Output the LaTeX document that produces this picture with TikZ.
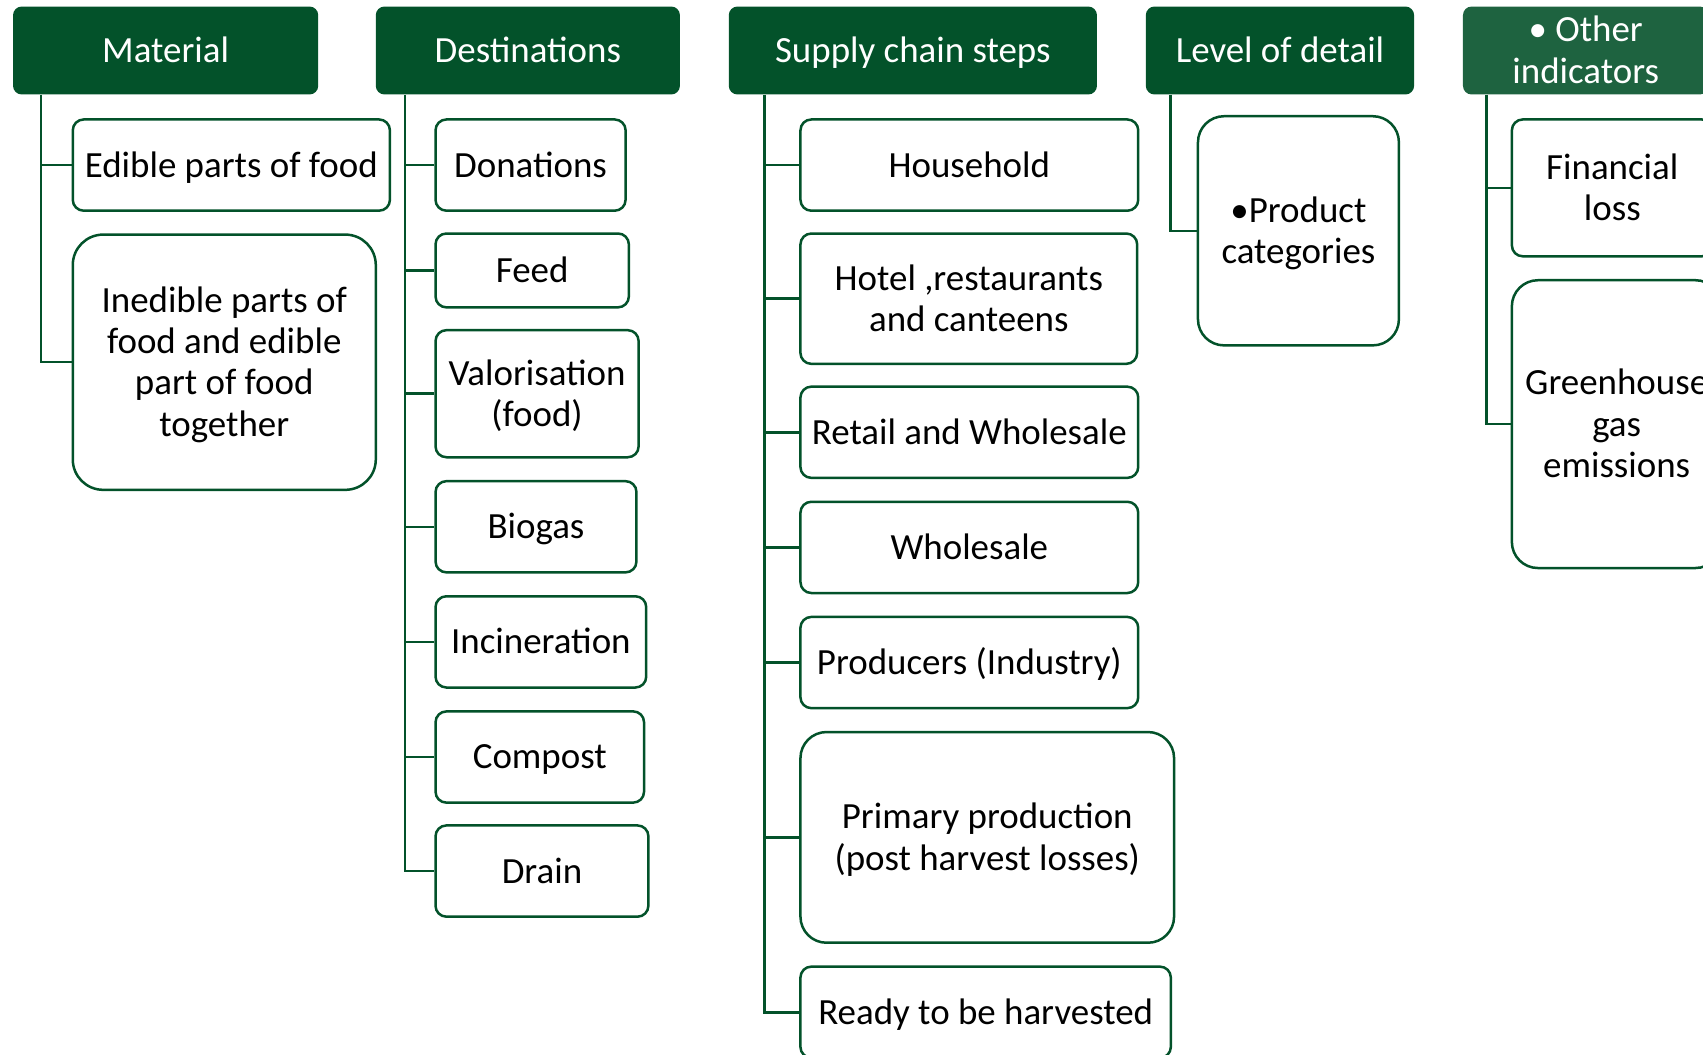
\documentclass[tikz,border=0pt]{standalone}
\usepackage{fontspec}
\setmainfont{Carlito}
\definecolor{dg}{HTML}{03522A}
\definecolor{lg}{HTML}{1E6340}
\newcommand\mystrutx{\rule[-8pt]{0pt}{38pt}}
\newcommand\mlines[1]{\raisebox{-3.5pt}[\height][\depth]{\begin{tabular}{@{}c@{}}#1\end{tabular}}}
\begin{document}
\begin{tikzpicture}[x=1pt,y=-1pt,
  txt/.style={font=\fontsize{34}{38}\selectfont, align=center, inner sep=0pt,
    execute at begin node=\mystrutx},
  hdr/.style={txt, fill=dg, text=white, rounded corners=8pt, minimum height=81pt},
  box/.style={txt, draw=dg, line width=2.3pt, fill=white, rounded corners=10pt, text=black},
  bigbox/.style={box, rounded corners=28pt},
  conn/.style={draw=dg, line width=2.3pt}]
\useasboundingbox (0,0) rectangle (1568,971);
\clip (0,0) rectangle (1568,971);

% headers
\node[hdr, minimum width=281pt] (hm) at (152.5,46.5) {Material};
\node[hdr, minimum width=280pt] (hd) at (486,46.5) {Destinations};
\node[hdr, minimum width=339pt] (hs) at (840.5,46.5) {Supply chain steps};
\node[hdr, minimum width=247pt] (hl) at (1178.5,46.5) {Level of detail};
\node[hdr, fill=lg, minimum width=226pt] (ho) at (1460,46.5) {\mlines{• Other\\indicators}};

% material
\node[box, minimum width=292pt, minimum height=84pt] (e1) at (213,152) {Edible parts of food};
\node[bigbox, minimum width=279pt, minimum height=235pt] (e2) at (206.5,333.5) {\mlines{Inedible parts of\\food and edible\\part of food\\together}};

% destinations
\node[box, minimum width=175pt, minimum height=84pt] (d1) at (488.5,152) {Donations};
\node[box, minimum width=178pt, minimum height=68pt] (d2) at (490,249) {Feed};
\node[box, minimum width=187pt, minimum height=117pt] (d3) at (494.5,362.5) {\mlines{Valorisation\\(food)}};
\node[box, minimum width=185pt, minimum height=84pt] (d4) at (493.5,485) {Biogas};
\node[box, minimum width=194pt, minimum height=84pt] (d5) at (498,591) {Incineration};
\node[box, minimum width=192pt, minimum height=84pt] (d6) at (497,697) {Compost};
\node[box, minimum width=196pt, minimum height=84pt] (d7) at (499,802) {Drain};

% supply chain
\node[box, minimum width=311pt, minimum height=84pt] (s1) at (892.5,152) {Household};
\node[box, minimum width=310pt, minimum height=120pt] (s2) at (892,275) {\mlines{Hotel ,restaurants\\and canteens}};
\node[box, minimum width=311pt, minimum height=84pt] (s3) at (892.5,398) {Retail and Wholesale};
\node[box, minimum width=311pt, minimum height=84pt] (s4) at (892.5,504) {Wholesale};
\node[box, minimum width=311pt, minimum height=84pt] (s5) at (892.5,610) {Producers (Industry)};
\node[bigbox, rounded corners=24pt, minimum width=344pt, minimum height=194pt] (s6) at (909,771) {\mlines{Primary production\\(post harvest losses)}};
\node[box, minimum width=341pt, minimum height=84pt] (s7) at (907.5,932) {Ready to be harvested};

% level of detail
\node[bigbox, rounded corners=24pt, minimum width=185pt, minimum height=211pt] (l1) at (1195.5,212.5) {\mlines{•Product\\categories}};

% other indicators
\node[box, minimum width=185pt, minimum height=126pt] (o1) at (1484.5,173) {\mlines{Financial\\loss}};
\node[bigbox, rounded corners=24pt, minimum width=193pt, minimum height=265pt] (o2) at (1488.5,390.5) {\mlines{Greenhouse\\gas\\emissions}};

% trunks
\coordinate (tm) at ([xshift=26pt]hm.south west);
\coordinate (td) at ([xshift=27pt]hd.south west);
\coordinate (ts) at ([xshift=33pt]hs.south west);
\coordinate (tl) at ([xshift=23pt]hl.south west);
\coordinate (to) at ([xshift=22pt]ho.south west);

\draw[conn] (tm) |- (e2.west);
\draw[conn] (tm |- e1.west) -- (e1.west);

\draw[conn] (td) |- (d7.west);
\foreach \n in {d1,d2,d3,d4,d5,d6} \draw[conn] (td |- \n.west) -- (\n.west);

\draw[conn] (ts) |- (s7.west);
\foreach \n in {s1,s2,s3,s4,s5,s6} \draw[conn] (ts |- \n.west) -- (\n.west);

\draw[conn] (tl) |- (l1.west);

\draw[conn] (to) |- (o2.west);
\draw[conn] (to |- o1.west) -- (o1.west);
\end{tikzpicture}
\end{document}
